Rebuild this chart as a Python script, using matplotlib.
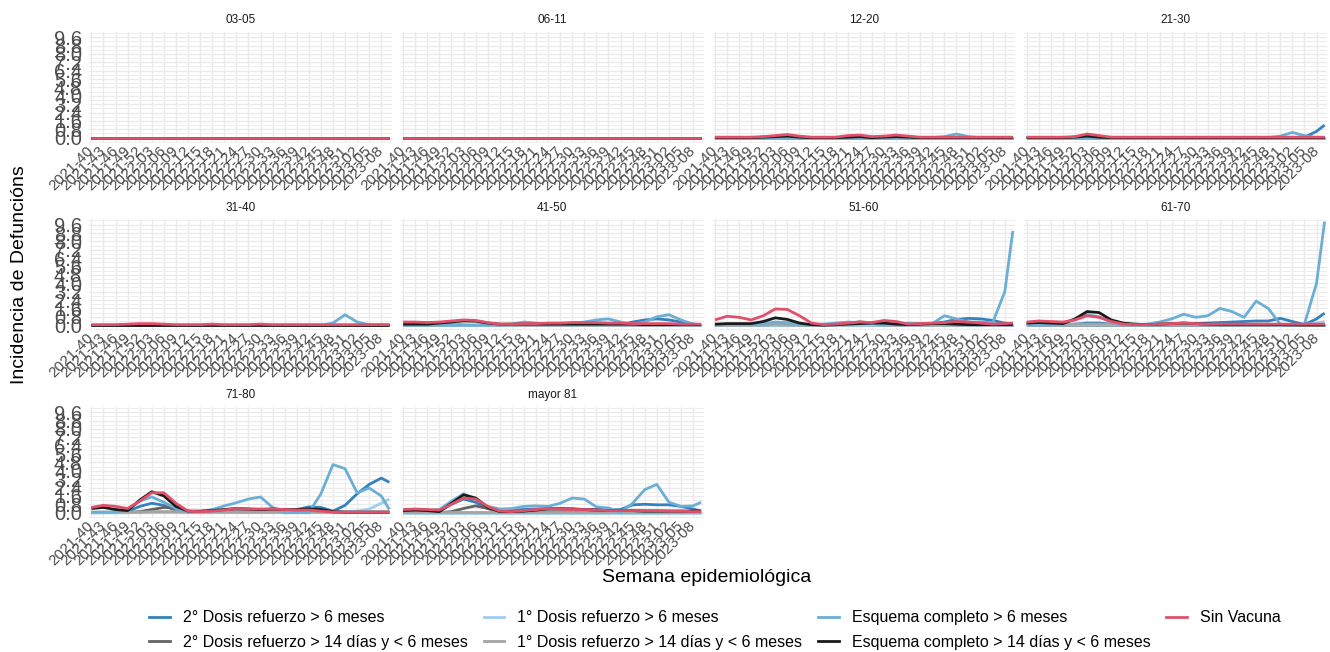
import matplotlib
matplotlib.use('Agg')
import matplotlib.pyplot as plt
from matplotlib.lines import Line2D
from matplotlib.ticker import MultipleLocator

plt.rcParams['font.family'] = ['Liberation Sans', 'DejaVu Sans']

# semanas epidemiologicas (cada 3 semanas + la ultima)
semanas = ['2021-40', '2021-43', '2021-46', '2021-49', '2021-52', '2022-03', '2022-06',
           '2022-09', '2022-12', '2022-15', '2022-18', '2022-21', '2022-24', '2022-27',
           '2022-30', '2022-33', '2022-36', '2022-39', '2022-42', '2022-45', '2022-48',
           '2022-51', '2023-02', '2023-05', '2023-08', '2023-10']
etiquetas_x = semanas[:25]

grupos = ['03-05', '06-11', '12-20', '21-30', '31-40', '41-50', '51-60', '61-70',
          '71-80', 'mayor 81']

series = ['2° Dosis refuerzo > 6 meses', '2° Dosis refuerzo > 14 días y < 6 meses',
          '1° Dosis refuerzo > 6 meses', '1° Dosis refuerzo > 14 días y < 6 meses',
          'Esquema completo > 6 meses', 'Esquema completo > 14 días y < 6 meses',
          'Sin Vacuna']
colores = ['#3182BD', '#636363', '#9DCDF0', '#A3A3A3', '#6BAED6', '#1A1A1A', '#E0506A']

ceros = [0, 0, 0, 0, 0, 0, 0, 0, 0, 0, 0, 0, 0, 0, 0, 0, 0, 0, 0, 0, 0, 0, 0, 0, 0, 0]

# 12-20
p1220_sv = [0.05, 0.05, 0.05, 0.05, 0.1, 0.2, 0.3, 0.15, 0.05, 0.05, 0.05, 0.2, 0.25,
            0.1, 0.15, 0.25, 0.15, 0.05, 0.05, 0.05, 0.05, 0.05, 0.05, 0.05, 0.05, 0.05]
p1220_ec14 = [0, 0, 0, 0, 0.05, 0.1, 0.15, 0.05, 0, 0, 0, 0.05, 0.1, 0, 0.05, 0.1, 0.05,
              0, 0, 0, 0, 0, 0, 0, 0, 0]
p1220_ec6 = [0, 0, 0, 0, 0, 0, 0, 0, 0, 0, 0, 0, 0, 0, 0, 0, 0, 0, 0, 0.1, 0.35, 0.1,
             0, 0, 0, 0]
# 21-30
p2130_sv = [0.05, 0.05, 0.05, 0.05, 0.1, 0.35, 0.2, 0.05, 0.05, 0.05, 0.05, 0.05, 0.05,
            0.05, 0.05, 0.05, 0.05, 0.05, 0.05, 0.05, 0.05, 0.05, 0.05, 0.05, 0.05, 0.05]
p2130_ec14 = [0, 0, 0, 0, 0.05, 0.15, 0.05, 0, 0, 0, 0, 0, 0, 0, 0, 0, 0, 0, 0, 0, 0, 0,
              0, 0, 0, 0]
p2130_ec6 = [0, 0, 0, 0, 0, 0, 0, 0, 0, 0, 0, 0, 0, 0, 0, 0, 0, 0, 0, 0, 0, 0.15, 0.5,
             0.2, 0, 0]
p2130_d26 = [0, 0, 0, 0, 0, 0, 0, 0, 0, 0, 0, 0, 0, 0, 0, 0, 0, 0, 0, 0, 0, 0, 0, 0.05,
             0.6, 1.2]
# 31-40
p3140_sv = [0.05, 0.05, 0.05, 0.1, 0.15, 0.15, 0.1, 0.05, 0.05, 0.05, 0.1, 0.05, 0.05,
            0.05, 0.1, 0.05, 0.05, 0.05, 0.05, 0.05, 0.05, 0.05, 0.05, 0.05, 0.05, 0.05]
p3140_ec6 = [0, 0, 0, 0, 0, 0, 0, 0, 0, 0, 0, 0, 0, 0, 0, 0, 0, 0, 0, 0, 0.2, 1.0, 0.3,
             0.05, 0.05, 0.05]
# 41-50
p4150_sv = [0.3, 0.3, 0.25, 0.3, 0.4, 0.5, 0.45, 0.25, 0.1, 0.1, 0.15, 0.15, 0.2, 0.2,
            0.25, 0.25, 0.25, 0.2, 0.2, 0.15, 0.15, 0.15, 0.15, 0.1, 0.1, 0.1]
p4150_ec14 = [0.1, 0.1, 0.1, 0.2, 0.3, 0.45, 0.4, 0.2, 0.1, 0.1, 0.1, 0.1, 0.1, 0.1, 0.1,
              0.1, 0.1, 0.1, 0.1, 0.1, 0.05, 0.05, 0.05, 0.05, 0.05, 0.05]
p4150_d114 = [0, 0, 0, 0, 0.1, 0.3, 0.35, 0.1, 0, 0, 0, 0, 0, 0, 0, 0, 0, 0, 0, 0, 0, 0,
              0, 0, 0, 0]
p4150_ec6 = [0, 0, 0, 0, 0, 0, 0, 0, 0, 0.1, 0.3, 0.2, 0.1, 0.1, 0.2, 0.3, 0.5, 0.6, 0.3,
             0.1, 0.3, 0.8, 1.0, 0.5, 0.1, 0]
p4150_d26 = [0, 0, 0, 0, 0, 0, 0, 0, 0, 0, 0, 0, 0, 0, 0, 0, 0, 0, 0.05, 0.3, 0.5, 0.6,
             0.5, 0.3, 0.1, 0.05]
# 51-60
p5160_sv = [0.5, 0.85, 0.75, 0.5, 0.9, 1.55, 1.5, 0.9, 0.2, 0.05, 0.1, 0.2, 0.3, 0.25,
            0.45, 0.35, 0.1, 0.15, 0.2, 0.25, 0.35, 0.3, 0.2, 0.1, 0.15, 0.2]
p5160_ec14 = [0.1, 0.15, 0.15, 0.15, 0.35, 0.7, 0.55, 0.2, 0.05, 0, 0.05, 0.1, 0.15,
              0.2, 0.2, 0.1, 0.05, 0.1, 0.15, 0.15, 0.1, 0.05, 0.05, 0.05, 0.05, 0.05]
p5160_ec6 = [0.05, 0.05, 0.05, 0.05, 0.15, 0.3, 0.25, 0.1, 0.05, 0.1, 0.2, 0.3, 0.25,
             0.15, 0.1, 0.1, 0.2, 0.15, 0.15, 0.9, 0.6, 0.3, 0.3, 0.25, 3.2, 9.0]
p5160_d26 = [0, 0, 0, 0, 0, 0, 0, 0, 0, 0, 0, 0, 0, 0, 0, 0, 0.05, 0.1, 0.15, 0.3, 0.55,
             0.65, 0.6, 0.45, 0.2, 0.15]
p5160_d114 = [0, 0, 0, 0, 0, 0.1, 0.05, 0, 0, 0, 0, 0.15, 0.35, 0.15, 0, 0, 0, 0, 0, 0,
              0, 0, 0, 0, 0, 0]
# 61-70
p6170_sv = [0.3, 0.4, 0.35, 0.3, 0.5, 0.9, 0.75, 0.35, 0.1, 0.05, 0.05, 0.1, 0.15, 0.2,
            0.15, 0.1, 0.1, 0.1, 0.1, 0.1, 0.1, 0.1, 0.1, 0.1, 0.1, 0.1]
p6170_ec14 = [0.2, 0.25, 0.2, 0.15, 0.6, 1.3, 1.2, 0.5, 0.2, 0.1, 0.05, 0.1, 0.15, 0.2,
              0.15, 0.1, 0.05, 0.05, 0.05, 0.05, 0.05, 0.05, 0.05, 0.05, 0.05, 0.05]
p6170_ec6 = [0.1, 0.1, 0.1, 0.2, 0.5, 1.0, 0.8, 0.3, 0.1, 0.05, 0.1, 0.3, 0.6, 1.05,
             0.75, 0.9, 1.6, 1.3, 0.75, 2.3, 1.6, 0.1, 0, 0.1, 4.0, 9.9]
p6170_d26 = [0.05, 0.05, 0.05, 0.05, 0.1, 0.2, 0.2, 0.1, 0.05, 0.05, 0.05, 0.05, 0.05,
             0.1, 0.15, 0.2, 0.25, 0.3, 0.35, 0.4, 0.4, 0.65, 0.35, 0.05, 0.6, 1.15]
p6170_d16 = [0, 0, 0, 0, 0, 0, 0, 0, 0, 0, 0, 0, 0, 0, 0, 0, 0, 0, 0, 0, 0, 0, 0.05,
             0.05, 0.2, 0.35]
p6170_d114 = [0.05, 0.05, 0.05, 0.05, 0.1, 0.1, 0.1, 0.1, 0.05, 0.05, 0.05, 0.05, 0.05,
              0.05, 0.05, 0.05, 0.05, 0.05, 0.05, 0.05, 0.05, 0.05, 0.05, 0.05, 0.05, 0.05]
# 71-80
p7180_sv = [0.5, 0.7, 0.6, 0.4, 1.1, 1.9, 1.9, 0.9, 0.15, 0.1, 0.15, 0.25, 0.4, 0.35,
            0.35, 0.35, 0.3, 0.25, 0.25, 0.15, 0.05, 0.05, 0.05, 0.05, 0.05, 0.05]
p7180_ec14 = [0.4, 0.5, 0.3, 0.2, 1.2, 2.0, 1.6, 0.6, 0.15, 0.15, 0.2, 0.3, 0.4, 0.35,
              0.3, 0.35, 0.3, 0.3, 0.35, 0.3, 0.1, 0.05, 0.05, 0.05, 0.05, 0.05]
p7180_ec6 = [0.05, 0.05, 0.05, 0.3, 1.1, 1.5, 1.0, 0.4, 0.1, 0.1, 0.3, 0.65, 0.95, 1.3,
             1.5, 0.5, 0, 0, 0, 1.8, 4.6, 4.2, 1.9, 2.35, 1.6, 0.3]
p7180_d26 = [0, 0, 0.05, 0.1, 0.6, 0.9, 0.7, 0.2, 0.05, 0.05, 0.05, 0.05, 0.05, 0.05,
             0.05, 0.05, 0.1, 0.3, 0.55, 0.5, 0.15, 0.7, 1.8, 2.7, 3.3, 2.9]
p7180_d16 = [0, 0, 0, 0, 0, 0, 0, 0, 0, 0, 0, 0, 0, 0, 0, 0, 0, 0, 0, 0, 0.05, 0.1,
             0.15, 0.35, 0.9, 1.3]
p7180_d214 = [0, 0, 0, 0, 0.1, 0.3, 0.5, 0.45, 0.15, 0.05, 0.1, 0.1, 0.1, 0.1, 0.1, 0.1,
              0.1, 0.1, 0.1, 0.1, 0.05, 0.05, 0.05, 0.05, 0.05, 0.05]
p7180_d114 = [0.05, 0.05, 0.05, 0.05, 0.05, 0.1, 0.1, 0.1, 0.05, 0.05, 0.05, 0.05, 0.05,
              0.05, 0.05, 0.05, 0.05, 0.05, 0.05, 0.05, 0.05, 0.05, 0.05, 0.05, 0.05, 0.05]
# mayor 81
p81_sv = [0.3, 0.35, 0.3, 0.25, 0.8, 1.4, 1.3, 0.6, 0.15, 0.1, 0.2, 0.3, 0.4, 0.35, 0.3,
          0.3, 0.25, 0.2, 0.2, 0.2, 0.2, 0.2, 0.15, 0.15, 0.1, 0.1]
p81_ec14 = [0.2, 0.25, 0.2, 0.1, 0.9, 1.7, 1.4, 0.5, 0.1, 0.1, 0.15, 0.25, 0.35, 0.35,
            0.35, 0.3, 0.25, 0.2, 0.2, 0.2, 0.15, 0.15, 0.15, 0.15, 0.15, 0.15]
p81_ec6 = [0.2, 0.25, 0.2, 0.3, 1.1, 1.8, 1.3, 0.6, 0.35, 0.4, 0.6, 0.65, 0.6, 0.9, 1.4,
           1.3, 0.55, 0.45, 0.05, 0.9, 2.2, 2.7, 1.0, 0.6, 0.65, 1.0]
p81_d26 = [0.1, 0.1, 0.1, 0.15, 0.8, 1.3, 1.0, 0.4, 0.2, 0.25, 0.3, 0.35, 0.4, 0.4,
           0.35, 0.3, 0.3, 0.25, 0.3, 0.75, 0.8, 0.75, 0.75, 0.6, 0.35, 0.15]
p81_d214 = [0, 0, 0, 0, 0.1, 0.4, 0.65, 0.4, 0.1, 0.05, 0.05, 0.05, 0.05, 0.05, 0.05,
            0.05, 0.05, 0.05, 0.05, 0.05, 0.05, 0.05, 0.05, 0.05, 0.05, 0.05]
p81_d114 = [0.05, 0.05, 0.05, 0.05, 0.05, 0.05, 0.05, 0.05, 0.05, 0.05, 0.05, 0.05, 0.05,
            0.05, 0.05, 0.05, 0.05, 0.05, 0.05, 0.05, 0.05, 0.05, 0.05, 0.05, 0.05, 0.05]

# orden: 2°>6m, 2°14d, 1°>6m, 1°14d, Esq>6m, Esq14d, Sin vacuna
tabla = {
    '03-05': [ceros, ceros, ceros, ceros, ceros, ceros, ceros],
    '06-11': [ceros, ceros, ceros, ceros, ceros, ceros, ceros],
    '12-20': [ceros, ceros, ceros, ceros, p1220_ec6, p1220_ec14, p1220_sv],
    '21-30': [p2130_d26, ceros, ceros, ceros, p2130_ec6, p2130_ec14, p2130_sv],
    '31-40': [ceros, ceros, ceros, ceros, p3140_ec6, ceros, p3140_sv],
    '41-50': [p4150_d26, ceros, ceros, p4150_d114, p4150_ec6, p4150_ec14, p4150_sv],
    '51-60': [p5160_d26, ceros, ceros, p5160_d114, p5160_ec6, p5160_ec14, p5160_sv],
    '61-70': [p6170_d26, ceros, p6170_d16, p6170_d114, p6170_ec6, p6170_ec14, p6170_sv],
    '71-80': [p7180_d26, p7180_d214, p7180_d16, p7180_d114, p7180_ec6, p7180_ec14,
              p7180_sv],
    'mayor 81': [p81_d26, p81_d214, ceros, p81_d114, p81_ec6, p81_ec14, p81_sv],
}


def semana_idx(s):
    anio, sem = s.split('-')
    return (int(anio) - 2021) * 52 + int(sem) - 40


x = [semana_idx(s) for s in semanas]
xt = [semana_idx(s) for s in etiquetas_x]

W, H = 1330, 652
fig = plt.figure(figsize=(W / 100, H / 100), dpi=100)

lefts = [89, 400.75, 712.5, 1024.25]
tops = [31.7, 219.2, 406.7]
pw, ph = 302.75, 111

for i, g in enumerate(grupos):
    r, c = divmod(i, 4)
    ax = fig.add_axes([lefts[c] / W, 1 - (tops[r] + ph) / H, pw / W, ph / H])
    for k in range(7):
        ax.plot(x, tabla[g][k], color=colores[k], lw=2, solid_capstyle='butt')
    ax.set_xlim(-0.6, 74.6)
    ax.set_ylim(-0.48, 10.12)
    ax.yaxis.set_major_locator(MultipleLocator(0.8))
    ax.yaxis.set_minor_locator(MultipleLocator(0.4))
    ax.set_xticks(xt)
    ax.set_xticklabels(etiquetas_x, rotation=45, ha='right', va='center',
                       rotation_mode='anchor', fontsize=11, color='#4D4D4D')
    if c == 0:
        ax.set_yticks([i * 0.8 for i in range(13)])
        ax.set_yticklabels(['%.1f' % (i * 0.8) for i in range(13)], fontsize=14.5,
                           color='#4D4D4D')
    else:
        ax.set_yticklabels([])
    ax.tick_params(which='both', length=0, pad=5)
    ax.tick_params(axis='x', pad=4)
    ax.grid(True, which='major', color='#EBEBEB', lw=1.0)
    ax.grid(True, which='minor', axis='y', color='#EBEBEB', lw=0.6)
    ax.set_axisbelow(True)
    for s in ax.spines.values():
        s.set_visible(False)
    ax.set_title(g, fontsize=8.5, color='#1A1A1A', pad=6)

fig.text(20 / W, 1 - 275 / H, 'Incidencia de Defuncións', rotation=90, fontsize=14,
         ha='center', va='center')
fig.text(707 / W, 1 - 577 / H, 'Semana epidemiológica', fontsize=14, ha='center',
         va='center')

handles = [Line2D([], [], color=colores[k], lw=2) for k in range(7)]
fig.legend(handles, series, ncol=4, loc='center', bbox_to_anchor=(715 / W, 1 - 630 / H),
           frameon=False, fontsize=11.5, handlelength=1.3, handletextpad=0.8,
           columnspacing=1.0, labelspacing=0.6)

fig.savefig('out.png', dpi=100)
